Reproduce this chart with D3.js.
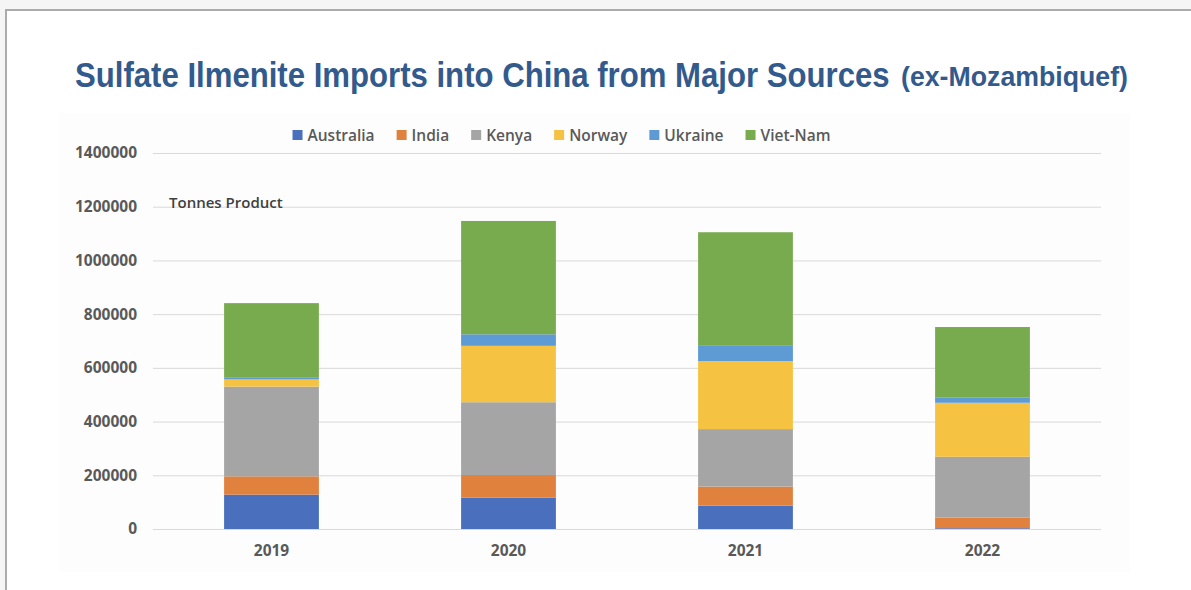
<!DOCTYPE html>
<html>
<head>
<meta charset="utf-8">
<script src="https://cdn.jsdelivr.net/npm/d3@7"></script>
<style>
  html, body { margin: 0; padding: 0; background: #f5f5f5; }
  svg { display: block; }
</style>
</head>
<body>
<svg id="chart" width="1191" height="590"></svg>
<script>
// Import volumes by year and source country (tonnes of product)
const years = ["2019", "2020", "2021", "2022"];
const sources = ["Australia", "India", "Kenya", "Norway", "Ukraine", "Viet-Nam"];
const australia = [128000, 117000, 87000, 3000];
const india     = [68000, 84000, 71000, 40000];
const kenya     = [334000, 271000, 214000, 226000];
const norway    = [27000, 210000, 253000, 201000];
const ukraine   = [6000, 43000, 57000, 19000];
const vietnam   = [278000, 422000, 423000, 263000];
const yTicks = [0, 200000, 400000, 600000, 800000, 1000000, 1200000, 1400000];
const colors = ["#4a70bd", "#e0823d", "#a5a5a5", "#f5c242", "#5e9bd4", "#78ab4e"];

const seriesValues = [australia, india, kenya, norway, ukraine, vietnam];
const rows = years.map((yr, i) => {
  const r = { year: yr };
  sources.forEach((s, j) => { r[s] = seriesValues[j][i]; });
  return r;
});

const svg = d3.select("#chart");
const W = 1191, H = 590;

// page frame
svg.append("rect").attr("x", 0).attr("y", 0).attr("width", W).attr("height", H).attr("fill", "#f5f5f5");
svg.append("rect").attr("x", 6).attr("y", 10).attr("width", W + 10).attr("height", H)
  .attr("fill", "#ffffff").attr("stroke", "#ababab").attr("stroke-width", 2);

// faint chart panel
svg.append("rect").attr("x", 59).attr("y", 113).attr("width", 1071).attr("height", 459).attr("fill", "#fdfdfd");

// title, drawn in a bold face squeezed horizontally to a condensed width
const titleColor = "#335a8c";
function condensedText(str, left, baseline, size, width) {
  const t = svg.append("text").attr("x", 0).attr("y", 0)
    .attr("font-family", "'Liberation Sans Narrow', 'Liberation Sans', Arial, sans-serif")
    .attr("font-weight", 700).attr("font-size", size).attr("fill", titleColor)
    .text(str);
  const natural = t.node().getComputedTextLength();
  t.attr("transform", `translate(${left},${baseline}) scale(${width / natural},1)`);
}
condensedText("Sulfate Ilmenite Imports into China from Major Sources", 75, 87, 35, 815);
condensedText("(ex-Mozambiquef)", 901, 86, 28, 227);

// scales
const x = d3.scaleBand().domain(years).range([153, 1101]).paddingInner(0.6).paddingOuter(0.3);
const y = d3.scaleLinear().domain([0, 1400000]).range([529, 153]);

const labelFont = "'Open Sans', 'Noto Sans', sans-serif";
const labelColor = "#595959";

// gridlines and y axis labels
const yAxis = d3.axisLeft(y).tickValues(yTicks).tickSize(-(1101 - 153)).tickPadding(16).tickFormat(d3.format("d"));
const gy = svg.append("g").attr("transform", "translate(153,0)").call(yAxis);
gy.select(".domain").remove();
gy.selectAll(".tick line").attr("stroke", "#d9d9d9").attr("stroke-width", 1);
gy.selectAll(".tick text").attr("font-family", labelFont).attr("font-weight", 700)
  .attr("font-size", 15.5).attr("fill", labelColor);

// stacked bars
const stack = d3.stack().keys(sources)(rows);
svg.append("g").selectAll("g").data(stack).join("g")
  .attr("fill", (d, i) => colors[i])
  .selectAll("rect").data(d => d).join("rect")
  .attr("x", d => x(d.data.year))
  .attr("width", x.bandwidth())
  .attr("y", d => y(d[1]))
  .attr("height", d => y(d[0]) - y(d[1]));

// x axis labels
const xAxis = d3.axisBottom(x).tickSize(0).tickPadding(16);
const gx = svg.append("g").attr("transform", "translate(0,529)").call(xAxis);
gx.select(".domain").remove();
gx.selectAll(".tick text").attr("font-family", labelFont).attr("font-weight", 700)
  .attr("font-size", 15.5).attr("fill", labelColor);

// unit note
svg.append("text").attr("x", 169).attr("y", 208)
  .attr("font-family", labelFont).attr("font-weight", 600).attr("font-size", 15)
  .attr("fill", "#404040").text("Tonnes Product");

// legend
const legend = svg.append("g");
let lx = 0;
sources.forEach((s, i) => {
  const item = legend.append("g").attr("transform", `translate(${lx},0)`);
  item.append("rect").attr("x", 0).attr("y", -5).attr("width", 10).attr("height", 10).attr("fill", colors[i]);
  const t = item.append("text").attr("x", 15).attr("y", 5.5)
    .attr("font-family", labelFont).attr("font-weight", 600).attr("font-size", 15.5)
    .attr("fill", labelColor).text(s);
  lx += 15 + t.node().getComputedTextLength() + 22;
});
const legendWidth = lx - 22;
legend.attr("transform", `translate(${561.5 - legendWidth / 2},135)`);
</script>
</body>
</html>
